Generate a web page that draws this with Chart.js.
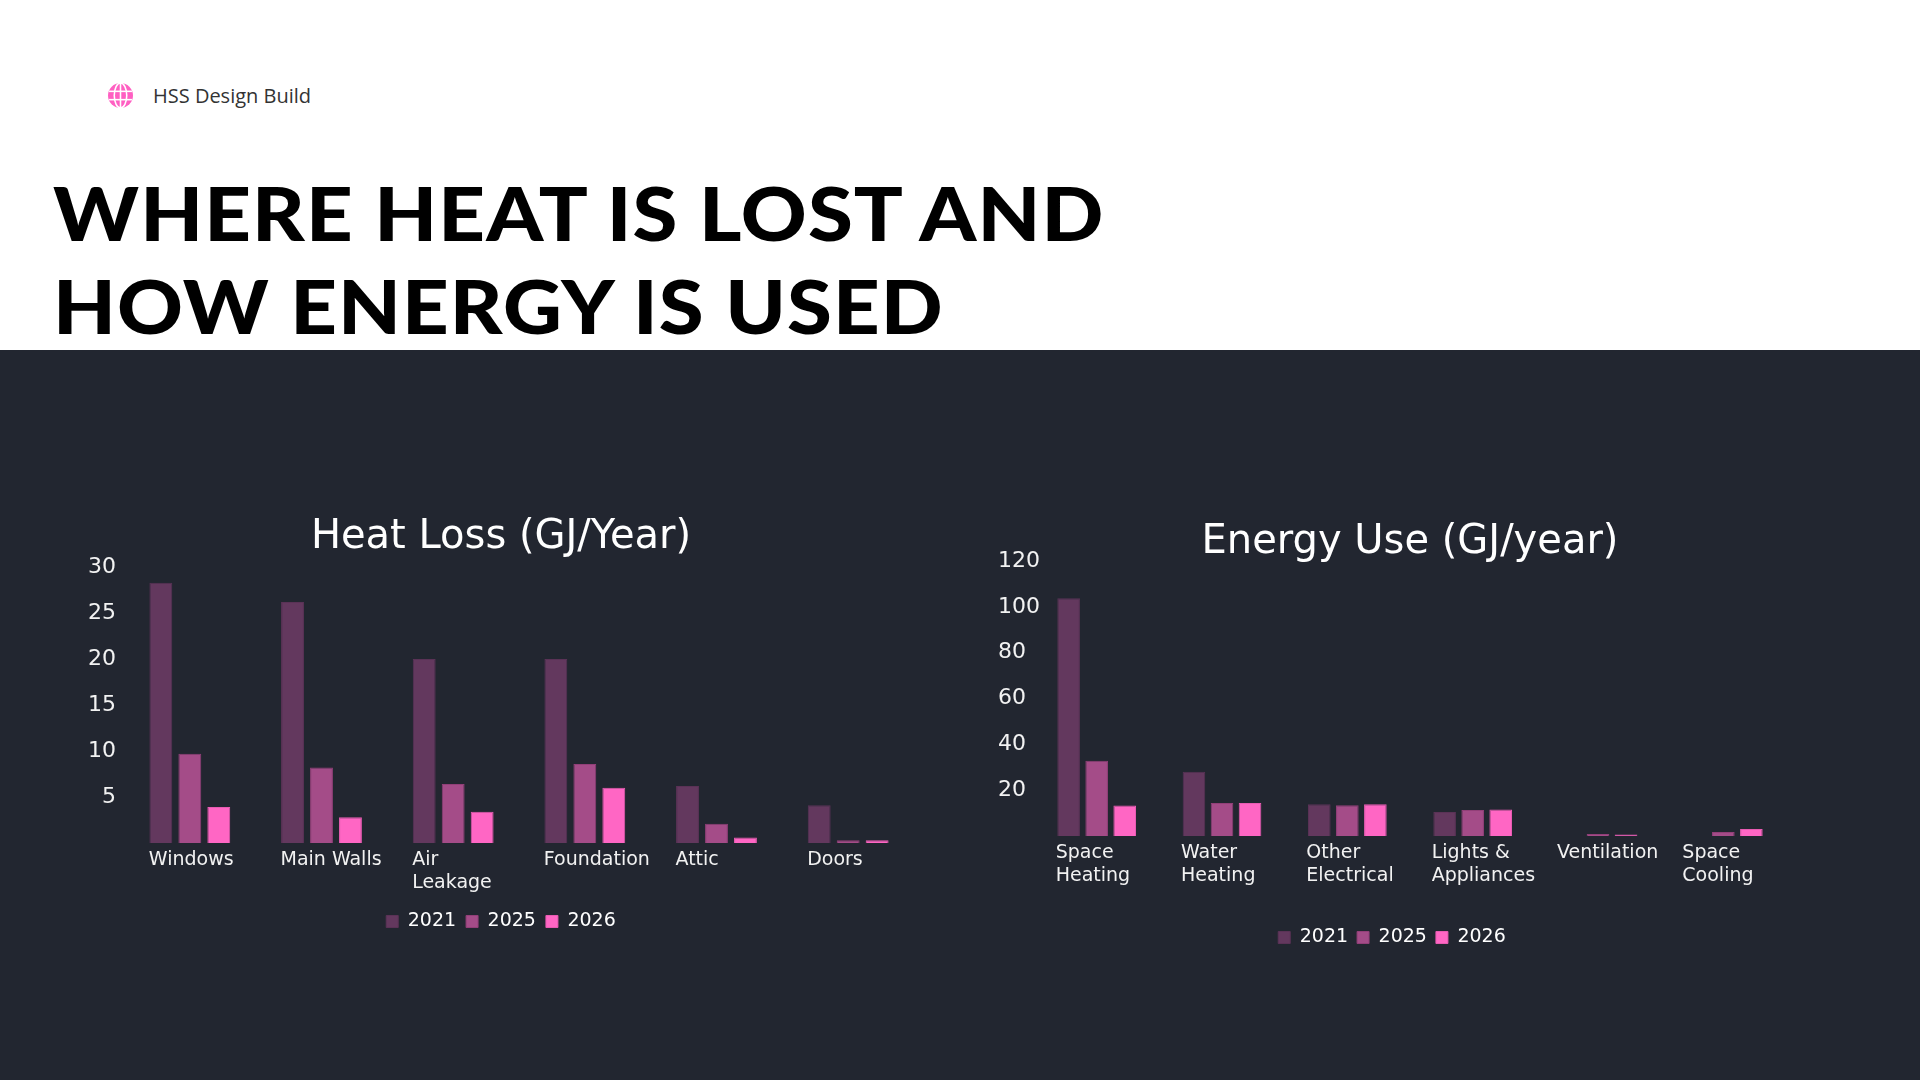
<!DOCTYPE html>
<html>
<head>
<meta charset="utf-8">
<script src="https://cdn.jsdelivr.net/npm/chart.js"></script>
<style>
  body { margin: 0; width: 1920px; height: 1080px; background: #fff; position: relative; overflow: hidden; }
  .brand { position: absolute; left: 108px; top: 82px; display: flex; align-items: center; }
  .brand span { margin-left: 20px; font-family: "Open Sans", sans-serif; font-size: 20px; color: #333; }
  h1 { position: absolute; left: 53px; top: 166px; margin: 0; font-family: Lato, sans-serif; font-weight: 900;
       font-size: 74px; line-height: 93px; letter-spacing: 1px; color: #000;
       transform: scaleX(1.1); transform-origin: left top; white-space: nowrap; }
  .panel { position: absolute; left: 0; top: 350px; width: 1920px; height: 730px; background: #222630; }
  .box { position: absolute; }
</style>
</head>
<body>
<div class="brand">
  <svg width="25" height="25" viewBox="0 0 24 24">
    <circle cx="12" cy="12" r="12" fill="#ff5fc2"/>
    <g stroke="#fff" stroke-width="1.5" fill="none">
      <line x1="12" y1="0" x2="12" y2="24"/>
      <ellipse cx="12" cy="12" rx="6" ry="12"/>
      <line x1="1" y1="8" x2="23" y2="8"/>
      <line x1="1" y1="16" x2="23" y2="16"/>
    </g>
  </svg>
  <span>HSS Design Build</span>
</div>
<h1>WHERE HEAT IS LOST AND<br>HOW ENERGY IS USED</h1>
<div class="panel"></div>
<div class="box" style="left:88px;top:510px;width:826px;height:431px;"><canvas id="heatChart"></canvas></div>
<div class="box" style="left:998px;top:517px;width:788px;height:440px;"><canvas id="energyChart"></canvas></div>
<script>
// Heat loss data (GJ/Year)
const heatCategories = ['Windows', 'Main Walls', ['Air', 'Leakage'], 'Foundation', 'Attic', 'Doors'];
const heat2021 = [28.3, 26.2, 20, 20, 6.2, 4.1];
const heat2025 = [9.7, 8.2, 6.4, 8.6, 2.1, 0.3];
const heat2026 = [3.9, 2.8, 3.4, 6.0, 0.6, 0.3];
const heatTicks = [0, 30, 5];

// Energy use data (GJ/year)
const energyCategories = [['Space', 'Heating'], ['Water', 'Heating'], ['Other', 'Electrical'], ['Lights &', 'Appliances'], 'Ventilation', ['Space', 'Cooling']];
const energy2021 = [103.7, 28, 13.9, 10.5, null, null];
const energy2025 = [32.8, 14.4, 13.4, 11.3, 0.9, 1.8];
const energy2026 = [13.3, 14.4, 13.9, 11.6, 0.7, 3.1];
const energyTicks = [0, 120, 20];

const years = ['2021', '2025', '2026'];
const fills = ['#63385e', '#a44c88', '#ff66c4'];
const edges = ['#5a3256', '#923f78', '#e85bb2'];

Chart.defaults.font.family = '"DejaVu Sans", sans-serif';
Chart.defaults.color = '#ffffff';

function makeDatasets(series, catPct, barPct) {
    return series.map((data, i) => ({
        label: years[i],
        data: data,
        backgroundColor: fills[i],
        borderColor: edges[i],
        borderWidth: 1,
        categoryPercentage: catPct,
        barPercentage: barPct,
    }));
}

// Heat Loss
new Chart(document.getElementById('heatChart'), {
    type: 'bar',
    data: {
        labels: heatCategories,
        datasets: makeDatasets([heat2021, heat2025, heat2026], 0.66, 0.79),
    },
    options: {
        responsive: true,
        maintainAspectRatio: false,
        animation: false,
        layout: { padding: 0 },
        plugins: {
            title: {
                display: true,
                text: 'Heat Loss (GJ/Year)',
                color: '#ffffff',
                font: { size: 40, weight: 'normal', lineHeight: 0.9 },
                padding: { top: 10, bottom: 11 },
            },
            legend: {
                position: 'bottom',
                labels: { boxWidth: 12, boxHeight: 12, padding: 10, color: '#ffffff', font: { size: 19 } },
            },
            tooltip: { enabled: false },
        },
        scales: {
            x: {
                grid: { display: false, drawTicks: false },
                border: { display: false },
                ticks: { color: '#f2f2f2', font: { size: 19 }, align: 'start', labelOffset: -41, padding: 6, maxRotation: 0, autoSkip: false },
                afterFit: (scale) => { scale.height = 59; scale.paddingLeft = 0; scale.paddingRight = 0; },
            },
            y: {
                min: heatTicks[0],
                max: heatTicks[1],
                grid: { display: false, drawTicks: false },
                border: { display: false },
                ticks: {
                    stepSize: heatTicks[2],
                    color: '#f2f2f2',
                    font: { size: 22 },
                    padding: 8,
                    crossAlign: 'near',
                    callback: (v) => (v === 0 ? '' : v),
                },
                afterFit: (scale) => { scale.width = 36; },
            },
        },
    },
});

// Energy Use
new Chart(document.getElementById('energyChart'), {
    type: 'bar',
    data: {
        labels: energyCategories,
        datasets: makeDatasets([energy2021, energy2025, energy2026], 0.671, 0.807),
    },
    options: {
        responsive: true,
        maintainAspectRatio: false,
        animation: false,
        layout: { padding: 0 },
        plugins: {
            title: {
                display: true,
                text: 'Energy Use (GJ/year)',
                color: '#ffffff',
                fullSize: false,
                font: { size: 40, weight: 'normal', lineHeight: 0.9 },
                padding: { top: 8, bottom: 0 },
            },
            legend: {
                position: 'bottom',
                labels: { boxWidth: 12, boxHeight: 12, padding: 9, color: '#ffffff', font: { size: 19 } },
            },
            tooltip: { enabled: false },
        },
        scales: {
            x: {
                grid: { display: false, drawTicks: false },
                border: { display: false },
                ticks: { color: '#f2f2f2', font: { size: 19 }, align: 'start', labelOffset: -41, padding: 6, maxRotation: 0, autoSkip: false },
                afterFit: (scale) => { scale.height = 83; scale.paddingLeft = 0; scale.paddingRight = 0; },
            },
            y: {
                min: energyTicks[0],
                max: energyTicks[1],
                grid: { display: false, drawTicks: false },
                border: { display: false },
                ticks: {
                    stepSize: energyTicks[2],
                    color: '#f2f2f2',
                    font: { size: 22 },
                    // labels are wider than the axis box, so draw them unclipped from its left edge
                    mirror: true,
                    padding: -36,
                    callback: (v) => (v === 0 ? '' : v),
                },
                afterFit: (scale) => { scale.width = 36; },
            },
        },
    },
});
</script>
</body>
</html>
